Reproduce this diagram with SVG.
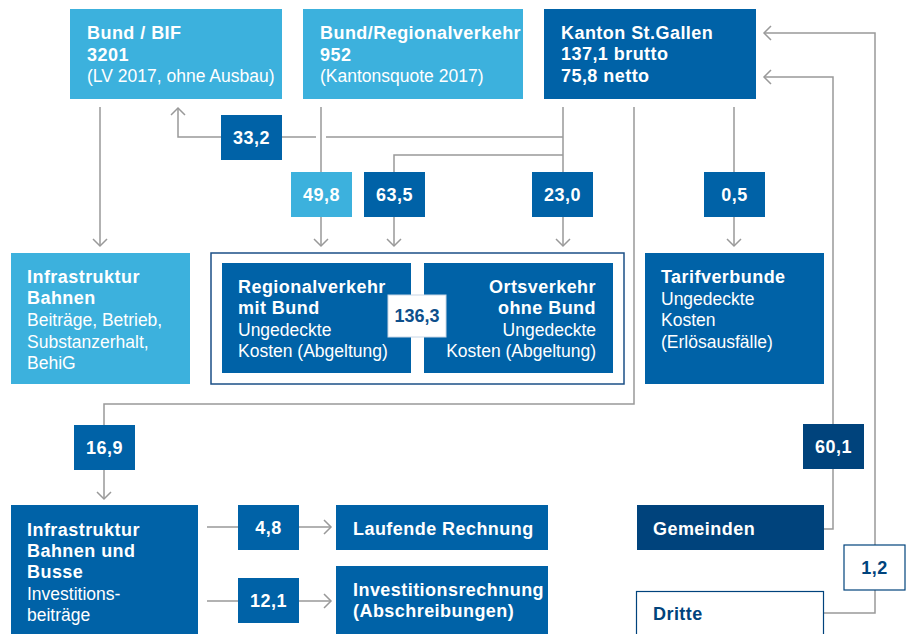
<svg xmlns="http://www.w3.org/2000/svg" width="906" height="634" viewBox="0 0 906 634">
<defs>
<marker id="arr" markerUnits="userSpaceOnUse" markerWidth="18" markerHeight="18" viewBox="-9 -9 18 18" refX="0" refY="0" orient="auto">
<path d="M-7,-7 L0,0 L-7,7" fill="none" stroke="#999" stroke-width="1.5"/>
</marker>
</defs>
<style>
text{font-family:"Liberation Sans",Arial,sans-serif;font-size:17.5px;fill:#fff}
.b{font-weight:bold;font-size:18px;letter-spacing:0.45px}
.l{font-weight:normal}
.lb{fill:#3cb1dd}
.mb{fill:#0062a7}
.nv{fill:#00437c}
.c{text-anchor:middle}
.r{text-anchor:end}
.dk{fill:#0d4f8b}
.ln{fill:none;stroke:#999;stroke-width:1.5}
.ar{marker-end:url(#arr)}
</style>
<rect width="906" height="634" fill="#fff"/>
<g id="connectors">
<path class="ln ar" d="M100,107 V246"/>
<path class="ln ar" d="M563,137 H326 M316,137 H282 M221,137 H178 V108"/>
<path class="ln" d="M321,107 V172"/>
<path class="ln ar" d="M321,217 V246"/>
<path class="ln" d="M563,155 H394 V172"/>
<path class="ln ar" d="M394,217 V246"/>
<path class="ln" d="M563,107 V172"/>
<path class="ln ar" d="M563,217 V246"/>
<path class="ln" d="M634,107 V404 H104 V425"/>
<path class="ln ar" d="M104,470 V499"/>
<path class="ln" d="M734,107 V172"/>
<path class="ln ar" d="M734,217 V246"/>
<path class="ln ar" d="M824,529 H833 V77 H764"/>
<path class="ln ar" d="M824,613 H875 V33 H764"/>
<path class="ln" d="M207,527 H238"/>
<path class="ln ar" d="M299,527 H331"/>
<path class="ln" d="M207,601 H238"/>
<path class="ln ar" d="M299,601 H331"/>
</g>
<g id="bund-bif">
<rect class="lb" x="70" y="9" width="212" height="90"/>
<text x="87" y="39" class="b">Bund / BIF</text>
<text x="87" y="61" class="b">3201</text>
<text x="87" y="82" class="l">(LV 2017, ohne Ausbau)</text>
</g>
<g id="bund-regional">
<rect class="lb" x="303" y="9" width="220" height="90"/>
<text x="320" y="39" class="b">Bund/Regionalverkehr</text>
<text x="320" y="61" class="b">952</text>
<text x="320" y="82" class="l">(Kantonsquote 2017)</text>
</g>
<g id="kanton">
<rect class="mb" x="544" y="9" width="212" height="90"/>
<text x="561" y="39" class="b">Kanton St.Gallen</text>
<text x="561" y="60" class="b">137,1 brutto</text>
<text x="561" y="82" class="b">75,8 netto</text>
</g>
<g id="v332"><rect class="mb" x="221" y="115" width="61" height="45"/><text x="251.5" y="144" class="b c">33,2</text></g>
<g id="v498"><rect class="lb" x="291" y="172" width="61" height="45"/><text x="321.5" y="201" class="b c">49,8</text></g>
<g id="v635"><rect class="mb" x="364" y="172" width="61" height="45"/><text x="394.5" y="201" class="b c">63,5</text></g>
<g id="v230"><rect class="mb" x="532" y="172" width="61" height="45"/><text x="562.5" y="201" class="b c">23,0</text></g>
<g id="v05"><rect class="mb" x="704" y="172" width="61" height="45"/><text x="734.5" y="201" class="b c">0,5</text></g>
<g id="infra-bahnen">
<rect class="lb" x="11" y="253" width="179" height="131"/>
<text x="27" y="283" class="b">Infrastruktur</text>
<text x="27" y="304" class="b">Bahnen</text>
<text x="27" y="326" class="l">Beiträge, Betrieb,</text>
<text x="27" y="348" class="l">Substanzerhalt,</text>
<text x="27" y="369" class="l">BehiG</text>
</g>
<g id="verkehr-gruppe">
<rect x="211" y="253" width="413" height="131" fill="#fff" stroke="#1b4f86" stroke-width="1.5"/>
</g>
<g id="regionalverkehr">
<rect class="mb" x="222" y="263" width="189" height="110"/>
<text x="238" y="293" class="b">Regionalverkehr</text>
<text x="238" y="314" class="b">mit Bund</text>
<text x="238" y="336" class="l">Ungedeckte</text>
<text x="238" y="357" class="l">Kosten (Abgeltung)</text>
</g>
<g id="ortsverkehr">
<rect class="mb" x="424" y="263" width="189" height="110"/>
<text x="596" y="293" class="b r">Ortsverkehr</text>
<text x="596" y="314" class="b r">ohne Bund</text>
<text x="596" y="336" class="l r">Ungedeckte</text>
<text x="596" y="357" class="l r">Kosten (Abgeltung)</text>
</g>
<g id="v1363">
<rect x="388" y="295" width="58" height="42" fill="#fff" stroke="#c8d6e6" stroke-width="1"/>
<text x="417" y="322" class="b c dk" style="letter-spacing:0">136,3</text>
</g>
<g id="tarifverbunde">
<rect class="mb" x="645" y="253" width="179" height="131"/>
<text x="661" y="283" class="b">Tarifverbunde</text>
<text x="661" y="305" class="l">Ungedeckte</text>
<text x="661" y="326" class="l">Kosten</text>
<text x="661" y="348" class="l">(Erlösausfälle)</text>
</g>
<g id="v169"><rect class="mb" x="74" y="425" width="61" height="45"/><text x="104.5" y="454" class="b c">16,9</text></g>
<g id="v601"><rect class="nv" x="803" y="424" width="61" height="45"/><text x="833.5" y="453" class="b c">60,1</text></g>
<g id="infra-bahnen-busse">
<rect class="mb" x="11" y="505" width="187" height="135"/>
<text x="27" y="536" class="b">Infrastruktur</text>
<text x="27" y="557" class="b">Bahnen und</text>
<text x="27" y="578" class="b">Busse</text>
<text x="27" y="600" class="l">Investitions-</text>
<text x="27" y="621" class="l">beiträge</text>
</g>
<g id="v48"><rect class="mb" x="238" y="505" width="61" height="45"/><text x="268.5" y="534" class="b c">4,8</text></g>
<g id="v121"><rect class="mb" x="238" y="578" width="61" height="45"/><text x="268.5" y="607" class="b c">12,1</text></g>
<g id="laufende-rechnung">
<rect class="mb" x="336" y="505" width="212" height="45"/>
<text x="353" y="535" class="b">Laufende Rechnung</text>
</g>
<g id="investitionsrechnung">
<rect class="mb" x="336" y="566" width="212" height="74"/>
<text x="353" y="596" class="b">Investitionsrechnung</text>
<text x="353" y="617" class="b">(Abschreibungen)</text>
</g>
<g id="gemeinden">
<rect class="nv" x="637" y="505" width="187" height="45"/>
<text x="653" y="535" class="b">Gemeinden</text>
</g>
<g id="v12">
<rect x="844" y="545" width="61" height="45" fill="#fff" stroke="#00437c" stroke-width="1.2"/>
<text x="874.5" y="574" class="b c" style="fill:#00437c">1,2</text>
</g>
<g id="dritte">
<rect x="636.5" y="591.5" width="187" height="50" fill="#fff" stroke="#00437c" stroke-width="1.2"/>
<text x="653" y="620" class="b" style="fill:#00437c">Dritte</text>
</g>
</svg>
